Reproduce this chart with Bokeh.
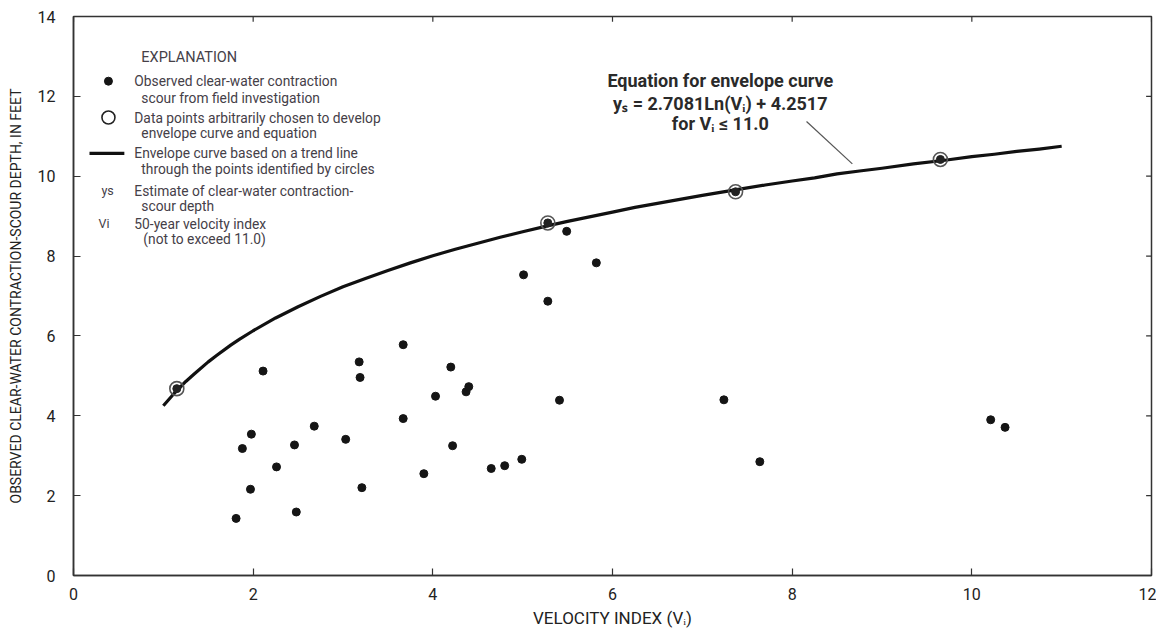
from bokeh.plotting import figure
from bokeh.models import Range1d, Label, FixedTicker
from bokeh.embed import file_html
from bokeh.resources import INLINE

# ---- data ----
obs_x = [1.81, 1.88, 1.97, 1.98, 2.11, 2.26, 2.46, 2.48, 2.68, 3.03, 3.18, 3.19, 3.21,
         3.67, 3.67, 3.90, 4.03, 4.20, 4.22, 4.37, 4.40, 4.65, 4.80, 4.99, 5.01, 5.28,
         5.41, 5.49, 5.82, 7.24, 7.64, 10.21, 10.37]
obs_y = [1.43, 3.18, 2.16, 3.54, 5.12, 2.72, 3.27, 1.59, 3.74, 3.41, 5.35, 4.96, 2.20,
         5.78, 3.93, 2.55, 4.49, 5.22, 3.25, 4.60, 4.73, 2.68, 2.75, 2.91, 7.53, 6.87,
         4.39, 8.62, 7.83, 4.40, 2.85, 3.90, 3.71]
env_pts_x = [1.15, 5.28, 7.37, 9.65]
env_pts_y = [4.68, 8.83, 9.61, 10.42]
curve_x = [1.0, 1.1, 1.15, 1.25, 1.35, 1.5, 1.6, 1.75, 1.85, 2.0, 2.25, 2.5, 2.75, 3.0,
           3.25, 3.5, 3.75, 4.0, 4.25, 4.5, 4.75, 5.0, 5.3, 5.5, 6.0, 6.25, 6.5, 6.75,
           7.0, 7.4, 7.7, 8.0, 8.25, 8.5, 8.75, 9.0, 9.35, 9.7, 10.0, 10.25, 10.5,
           10.75, 11.0]
curve_y = [4.25, 4.51, 4.63, 4.86, 5.06, 5.35, 5.52, 5.77, 5.92, 6.13, 6.45, 6.73, 6.99,
           7.23, 7.44, 7.64, 7.83, 8.01, 8.17, 8.32, 8.47, 8.61, 8.77, 8.87, 9.10, 9.22,
           9.32, 9.42, 9.52, 9.67, 9.78, 9.88, 9.96, 10.06, 10.13, 10.20, 10.31, 10.40,
           10.49, 10.55, 10.62, 10.68, 10.75]
x_ticks = [0, 2, 4, 6, 8, 10, 12]
y_ticks = [0, 2, 4, 6, 8, 10, 12, 14]

AXF = "Roboto"
LEG = "Roboto"
LEGC = "#454048"
AXC = "#333333"

p = figure(width=1156, height=630, output_backend="svg", toolbar_location=None,
           x_range=Range1d(0, 12), y_range=Range1d(0, 14),
           min_border_left=73, min_border_right=5, min_border_top=16, min_border_bottom=55)
p.grid.visible = False
p.outline_line_color = AXC
p.outline_line_width = 1.5
p.background_fill_color = "white"
p.border_fill_color = "white"

def style_axis(ax, ticks):
    ax.ticker = FixedTicker(ticks=ticks)
    ax.axis_line_color = AXC
    ax.axis_line_width = 1.5
    ax.major_tick_in = 7
    ax.major_tick_out = 0
    ax.major_tick_line_color = AXC
    ax.major_tick_line_width = 1.2
    ax.minor_tick_line_color = None
    ax.major_label_text_font = AXF
    ax.major_label_text_font_size = "16px"
    ax.major_label_text_color = "#222222"
    ax.axis_label_text_font = AXF
    ax.axis_label_text_font_style = "normal"
    ax.axis_label_text_color = "#222222"

xa = p.xaxis[0]
ya = p.yaxis[0]
style_axis(xa, x_ticks)
style_axis(ya, y_ticks)
xa.axis_label = "VELOCITY INDEX (V\u1d62)"
xa.axis_label_text_font_size = "17px"
xa.major_label_standoff = 12
xa.axis_label_standoff = 5
ya.axis_label = "OBSERVED CLEAR-WATER CONTRACTION-SCOUR DEPTH, IN FEET"
ya.axis_label_text_font_size = "14px"
ya.major_label_standoff = 18
ya.axis_label_standoff = 11

# inward ticks on the top and right frame edges, at the tick values
p.segment(x0=x_ticks, y0=[14] * len(x_ticks), x1=x_ticks, y1=[14 - 0.13] * len(x_ticks),
          line_color=AXC, line_width=1.2)
p.segment(x0=[12] * len(y_ticks), y0=y_ticks, x1=[12 - 0.06] * len(y_ticks), y1=y_ticks,
          line_color=AXC, line_width=1.2)

# envelope curve
p.line(curve_x, curve_y, line_color="#111111", line_width=3.2, line_join="round")
# observed points
p.scatter(obs_x, obs_y, size=8, color="#151515")
# chosen points: ring + dot
p.scatter(env_pts_x, env_pts_y, size=14, fill_color=None, line_color="#555555", line_width=1.6)
p.scatter(env_pts_x, env_pts_y, size=8, color="#222222")

# leader line for equation
p.line([8.16, 8.67], [11.37, 10.31], line_color="#555555", line_width=1.2)

# equation annotation
eq_lines = ["Equation for envelope curve", "y\u209b = 2.7081Ln(V\u1d62) + 4.2517", "for V\u1d62 \u2264 11.0"]
eq_y = [12.40, 11.82, 11.32]
for t, yy in zip(eq_lines, eq_y):
    p.add_layout(Label(x=7.2, y=yy, text=t, text_align="center", text_baseline="middle",
                       text_font=AXF, text_font_size="18px", text_font_style="bold",
                       text_color="#2a2a2a"))

# explanation block
def leg(x, y, t, size="13.8px", style="normal"):
    p.add_layout(Label(x=x, y=y, text=t, text_align="left", text_baseline="middle",
                       text_font=LEG, text_font_size=size, text_font_style=style,
                       text_color=LEGC))

leg(0.755, 12.98, "EXPLANATION", size="14.5px")
p.scatter([0.389], [12.38], size=8, color="#151515")
leg(0.677, 12.38, "Observed clear-water contraction")
leg(0.755, 11.97, "scour from field investigation")
p.scatter([0.389], [11.47], size=13, fill_color=None, line_color="#222222", line_width=1.6)
leg(0.677, 11.47, "Data points arbitrarily chosen to develop")
leg(0.755, 11.07, "envelope curve and equation")
p.line([0.178, 0.566], [10.57, 10.57], line_color="#111111", line_width=3.2)
leg(0.677, 10.57, "Envelope curve based on a trend line")
leg(0.755, 10.19, "through the points identified by circles")
leg(0.311, 9.64, "ys", size="12.5px")
leg(0.677, 9.64, "Estimate of clear-water contraction-")
leg(0.755, 9.26, "scour depth")
leg(0.278, 8.81, "Vi", size="12.5px")
leg(0.677, 8.81, "50-year velocity index")
leg(0.777, 8.43, "(not to exceed 11.0)")

open("out.html", "w").write(file_html(p, INLINE))
